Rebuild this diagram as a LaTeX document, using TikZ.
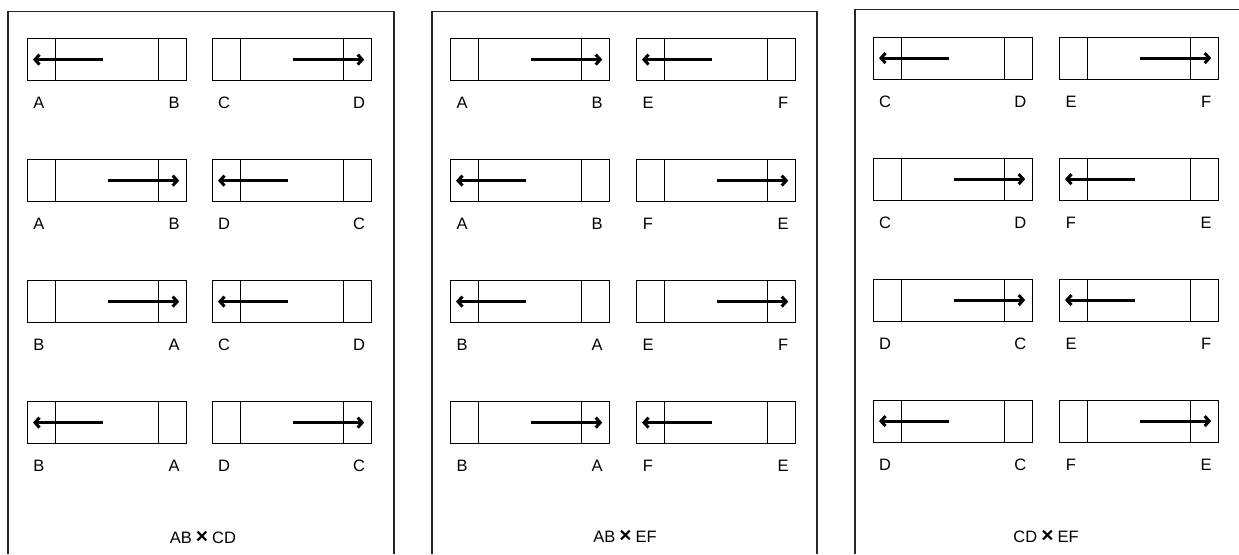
\documentclass[tikz,border=0pt]{standalone}
\usepackage{fontspec}
\setmainfont{Liberation Sans}
\usetikzlibrary{arrows.meta}
\tikzset{
  segbox/.style={draw=black, line width=1.2pt, minimum width=159pt, minimum height=42pt, inner sep=0pt},
  divider/.style={draw=black, line width=1.2pt},
  arr/.style={draw=black, line width=2.8pt, -{Straight Barb[length=4.5pt,width=10pt,line width=3pt]}},
  lab/.style={inner sep=0pt, font=\fontsize{16.5}{18}\selectfont},
  ttl/.style={inner sep=0pt, font=\fontsize{16.5}{18}\selectfont},
  panel/.style={draw=black!85, line width=1.8pt}
}
% #1 x, #2 y (top-left, pixels), #3 left label, #4 right label, #5 name
\newcommand\boxcore[5]{%
  \node[segbox, anchor=north west] (#5) at (#1,#2) {};
  \draw[divider] ([xshift=28.5pt]#5.north west) -- ([xshift=28.5pt]#5.south west);
  \draw[divider] ([xshift=-28.5pt]#5.north east) -- ([xshift=-28.5pt]#5.south east);
  \node[lab] (#5l) at ([xshift=12pt,yshift=-22pt]#5.south west) {#3};
  \node[lab] (#5r) at ([xshift=-13pt,yshift=-22pt]#5.south east) {#4};
  \coordinate (#5a) at ([xshift=6pt]#5.west);
  \coordinate (#5b) at ([xshift=76pt]#5.west);
  \coordinate (#5c) at ([xshift=81pt]#5.west);
  \coordinate (#5d) at ([xshift=-8pt]#5.east);
}
\newcommand\lbox[5]{\boxcore{#1}{#2}{#3}{#4}{#5}\draw[arr] (#5b) -- (#5a);}
\newcommand\rbox[5]{\boxcore{#1}{#2}{#3}{#4}{#5}\draw[arr] (#5c) -- (#5d);}
\newcommand\bx{{\bfseries\fontsize{21}{21}\selectfont ×}}
\begin{document}
\begin{tikzpicture}[x=1pt,y=-1pt]
\useasboundingbox (0,0) rectangle (1239,554);
% panel frames
\draw[panel] (8,554) -- (8,11.5) -- (394,11.5) -- (394,554);
\draw[panel] (432,554) -- (432,11.5) -- (817,11.5) -- (817,554);
\draw[panel] (855,554) -- (855,9.5) -- (1239,9.5);
% panel 1
\lbox{27}{38}{A}{B}{pa1}
\rbox{212}{38}{C}{D}{pa2}
\rbox{27}{159}{A}{B}{pa3}
\lbox{212}{159}{D}{C}{pa4}
\rbox{27}{280}{B}{A}{pa5}
\lbox{212}{280}{C}{D}{pa6}
\lbox{27}{401}{B}{A}{pa7}
\rbox{212}{401}{D}{C}{pa8}
\node[ttl] (ta) at (203,537) {AB\hspace{4pt}\bx\hspace{4pt}CD};
% panel 2
\rbox{450}{38}{A}{B}{pb1}
\lbox{636}{38}{E}{F}{pb2}
\lbox{450}{159}{A}{B}{pb3}
\rbox{636}{159}{F}{E}{pb4}
\lbox{450}{280}{B}{A}{pb5}
\rbox{636}{280}{E}{F}{pb6}
\rbox{450}{401}{B}{A}{pb7}
\lbox{636}{401}{F}{E}{pb8}
\node[ttl] (tb) at (625,536) {AB\hspace{4pt}\bx\hspace{4pt}EF};
% panel 3
\lbox{873}{36.5}{C}{D}{pc1}
\rbox{1059}{36.5}{E}{F}{pc2}
\rbox{873}{157.5}{C}{D}{pc3}
\lbox{1059}{157.5}{F}{E}{pc4}
\rbox{873}{278.5}{D}{C}{pc5}
\lbox{1059}{278.5}{E}{F}{pc6}
\lbox{873}{399.5}{D}{C}{pc7}
\rbox{1059}{399.5}{F}{E}{pc8}
\node[ttl] (tc) at (1046,536) {CD\hspace{4pt}\bx\hspace{4pt}EF};
\end{tikzpicture}
\end{document}
